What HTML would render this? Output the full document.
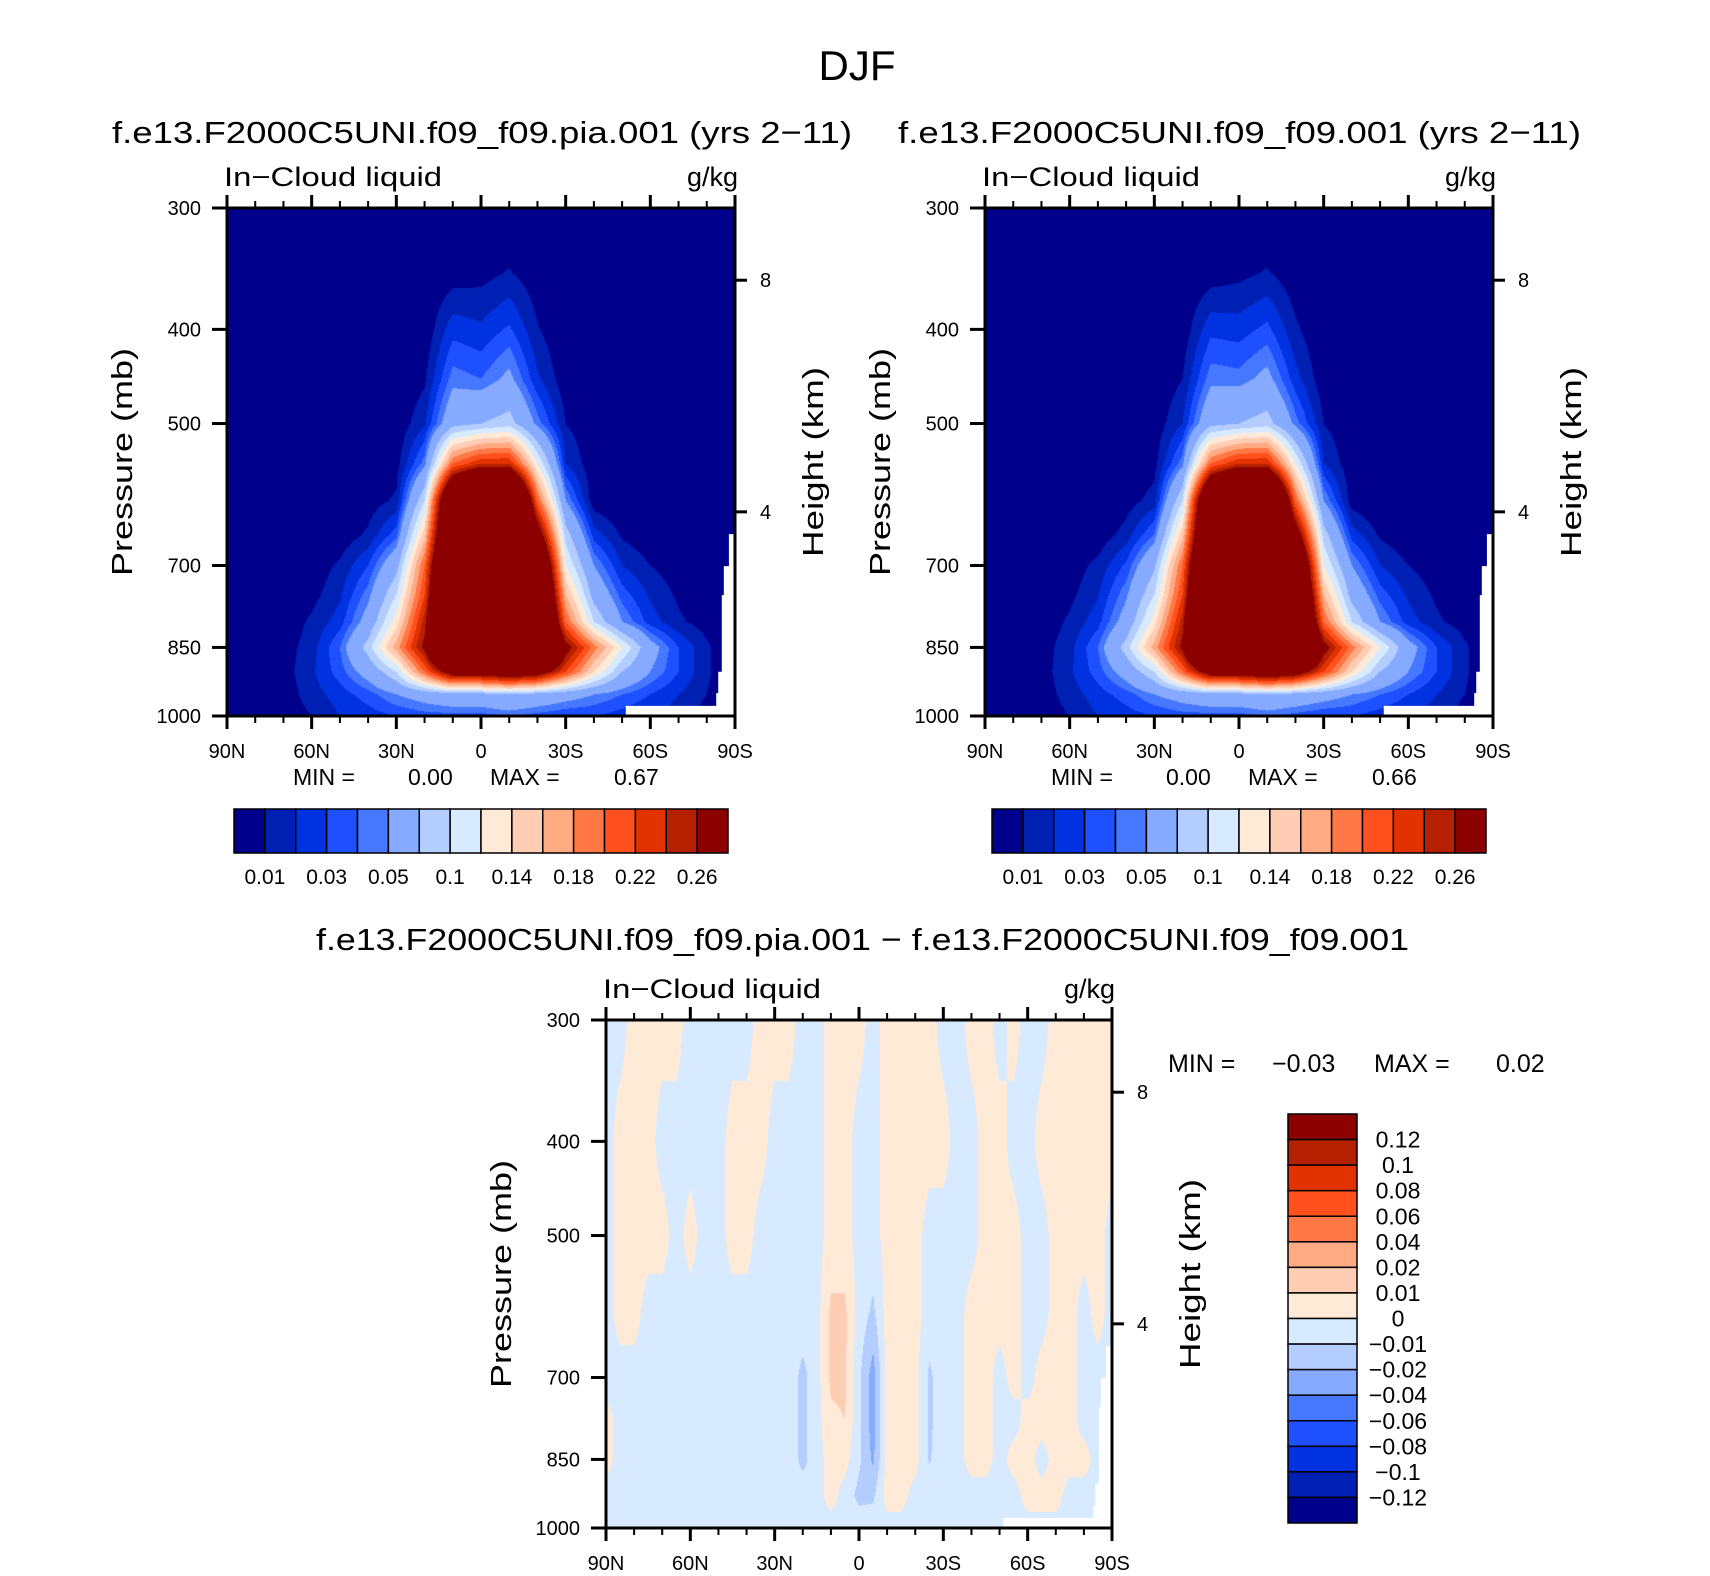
<!DOCTYPE html>
<html><head><meta charset="utf-8"><style>
html,body{margin:0;padding:0;background:#fff;}
#wrap{position:relative;width:1710px;height:1576px;overflow:hidden;font-family:"Liberation Sans",sans-serif;}
canvas{position:absolute;}
svg{position:absolute;left:0;top:0;}
text{font-family:"Liberation Sans",sans-serif;fill:#000;}
</style></head><body>
<div id="wrap">
<canvas id="c1" width="508" height="508" style="left:227px;top:208px"></canvas>
<canvas id="c2" width="508" height="508" style="left:985px;top:208px"></canvas>
<canvas id="c3" width="506" height="508" style="left:606px;top:1020px"></canvas>
<svg id="s" width="1710" height="1576">
<text x="857" y="80" font-size="42" text-anchor="middle">DJF</text>
<text x="112" y="143" font-size="31" textLength="740" lengthAdjust="spacingAndGlyphs">f.e13.F2000C5UNI.f09_f09.pia.001 (yrs 2−11)</text>
<text x="898" y="143" font-size="31" textLength="683" lengthAdjust="spacingAndGlyphs">f.e13.F2000C5UNI.f09_f09.001 (yrs 2−11)</text>
<text x="316" y="950" font-size="31" textLength="1093" lengthAdjust="spacingAndGlyphs">f.e13.F2000C5UNI.f09_f09.pia.001 − f.e13.F2000C5UNI.f09_f09.001</text>
</svg>
</div>
<script>
// ---- data ----
const topLats = [90,80,70,60,50,40,30,20,10,0,-10,-20,-30,-40,-50,-60,-70,-80,-90];
const topLevels = [300,350,400,450,500,550,600,650,700,750,800,850,900,950,1000];
const piaRows = [
[0,0,0,0,0,0,0,0,0,0,0,0,0,0,0,0,0,0,0],
[0,0,0,0,0,0,0,0,0.004,0.006,0.011,0.003,0,0,0,0,0,0,0],
[0,0,0,0,0,0,0,0.002,0.026,0.022,0.032,0.011,0,0,0,0,0,0,0],
[0,0,0,0,0,0,0,0.008,0.045,0.04,0.055,0.022,0.003,0,0,0,0,0,0],
[0,0,0,0,0,0,0.002,0.018,0.07,0.08,0.09,0.045,0.01,0.002,0,0,0,0,0],
[0,0,0,0,0,0,0.005,0.045,0.2,0.24,0.24,0.12,0.02,0.003,0,0,0,0,0],
[0,0,0,0,0,0.004,0.012,0.1,0.4,0.5,0.5,0.2,0.05,0.003,0,0,0,0,0],
[0,0,0,0,0.002,0.012,0.035,0.15,0.42,0.52,0.52,0.3,0.09,0.025,0.008,0.002,0,0,0],
[0,0,0,0.003,0.012,0.03,0.07,0.2,0.45,0.55,0.55,0.4,0.12,0.05,0.02,0.01,0.004,0,0],
[0,0,0.001,0.006,0.018,0.045,0.1,0.22,0.48,0.58,0.58,0.43,0.16,0.07,0.035,0.018,0.008,0.002,0],
[0,0,0.003,0.012,0.025,0.06,0.13,0.25,0.5,0.6,0.6,0.45,0.2,0.1,0.05,0.025,0.012,0.005,0],
[0,0,0.005,0.015,0.04,0.09,0.17,0.27,0.5,0.6,0.6,0.5,0.28,0.19,0.12,0.06,0.03,0.012,0],
[0,0,0.005,0.018,0.035,0.06,0.1,0.2,0.3,0.3,0.32,0.3,0.22,0.14,0.08,0.05,0.03,0.012,0],
[0,0,0.004,0.015,0.025,0.035,0.05,0.06,0.07,0.07,0.08,0.07,0.06,0.05,0.04,0.03,0.02,0.01,0],
[0,0,0.003,0.01,0.02,0.025,0.03,0.035,0.035,0.035,0.04,0.035,0.03,0.03,0.025,0.02,0.015,0.005,0]];
const ctlRows = [
[0,0,0,0,0,0,0,0,0,0,0,0,0,0,0,0,0,0,0],
[0,0,0,0,0,0,0,0,0.004,0.007,0.011,0.003,0,0,0,0,0,0,0],
[0,0,0,0,0,0,0,0.003,0.027,0.025,0.033,0.012,0,0,0,0,0,0,0],
[0,0,0,0,0,0,0.001,0.01,0.046,0.044,0.056,0.024,0.003,0,0,0,0,0,0],
[0,0,0,0,0,0,0.003,0.02,0.072,0.08,0.09,0.045,0.01,0.002,0,0,0,0,0],
[0,0,0,0,0,0.001,0.006,0.046,0.2,0.24,0.24,0.12,0.02,0.003,0,0,0,0,0],
[0,0,0,0,0,0.005,0.014,0.1,0.4,0.5,0.5,0.2,0.05,0.004,0,0,0,0,0],
[0,0,0,0,0.003,0.014,0.04,0.15,0.42,0.52,0.52,0.3,0.09,0.025,0.008,0.002,0,0,0],
[0,0,0,0.004,0.013,0.032,0.075,0.2,0.45,0.55,0.55,0.4,0.12,0.05,0.02,0.01,0.004,0,0],
[0,0,0.001,0.007,0.019,0.047,0.1,0.22,0.48,0.58,0.58,0.43,0.16,0.07,0.035,0.018,0.008,0.002,0],
[0,0,0.003,0.012,0.026,0.06,0.13,0.25,0.5,0.6,0.6,0.45,0.2,0.1,0.05,0.025,0.012,0.005,0],
[0,0,0.005,0.016,0.04,0.09,0.17,0.27,0.5,0.6,0.6,0.5,0.28,0.19,0.12,0.06,0.03,0.012,0],
[0,0,0.005,0.018,0.035,0.06,0.1,0.2,0.3,0.3,0.32,0.3,0.22,0.14,0.08,0.05,0.03,0.012,0],
[0,0,0.004,0.015,0.025,0.035,0.05,0.06,0.07,0.07,0.08,0.07,0.06,0.05,0.04,0.03,0.02,0.01,0],
[0,0,0.003,0.01,0.02,0.025,0.03,0.035,0.035,0.035,0.04,0.035,0.03,0.03,0.025,0.02,0.015,0.005,0]];
const diffLats = [90,85,80,75,70,65,60,55,50,45,40,35,30,25,20,15,10,5,0,-5,-10,-15,-20,-25,-30,-35,-40,-45,-50,-55,-60,-65,-70,-75,-80,-85,-90];
const diffLevels = [300,400,500,600,700,775,850,925,1000];
const P=0.004, N=-0.004;
const diffRows = [
[N,N,P,P,P,P,N,N,N,N,N,P,P,P,N,N,P,P,P,N,P,P,P,P,N,N,P,P,N,P,N,N,P,P,P,P,P],
[N,P,P,P,N,N,N,N,N,P,P,P,N,N,N,N,P,P,N,N,P,P,P,P,P,N,N,P,P,N,N,P,P,P,P,P,P],
[N,P,P,P,P,N,P,N,N,P,P,N,N,N,N,N,P,P,N,N,P,P,P,N,N,N,N,P,P,P,N,N,P,P,P,P,N],
[N,P,P,N,N,N,N,N,N,N,N,N,N,N,N,N,0.012,0.012,N,-0.012,P,P,P,N,N,N,P,P,P,P,N,N,P,P,N,P,N],
[N,N,N,N,N,N,N,N,N,N,N,N,N,N,-0.013,N,0.012,0.012,-0.008,-0.025,P,P,P,-0.012,N,N,P,P,N,P,N,P,P,P,N,N,N],
[P,N,N,N,N,N,N,N,N,N,N,N,N,N,-0.013,N,0.008,0.01,-0.008,-0.025,P,P,P,-0.012,N,N,P,P,N,N,P,P,P,P,N,N,N],
[P,N,N,N,N,N,N,N,N,N,N,N,N,N,-0.013,N,P,P,-0.008,-0.022,P,P,P,-0.011,N,N,P,P,N,P,P,N,P,P,P,N,N],
[N,N,N,N,N,N,N,N,N,N,N,N,N,N,N,N,P,N,-0.013,-0.012,P,P,N,N,N,N,N,N,N,N,P,P,P,N,N,N,N],
[N,N,N,N,N,N,N,N,N,N,N,N,N,N,N,N,N,N,N,N,N,N,N,N,N,N,N,N,N,N,N,N,N,N,N,N,N]];
const topBounds = [0.01,0.02,0.03,0.04,0.05,0.08,0.1,0.12,0.14,0.16,0.18,0.2,0.22,0.24,0.26];
const topBarLabels = ["0.01","0.03","0.05","0.1","0.14","0.18","0.22","0.26"];
const diffBounds = [-0.12,-0.1,-0.08,-0.06,-0.04,-0.02,-0.01,0,0.01,0.02,0.04,0.06,0.08,0.1,0.12];
const diffBarLabels = ["0.12","0.1","0.08","0.06","0.04","0.02","0.01","0","−0.01","−0.02","−0.04","−0.06","−0.08","−0.1","−0.12"];
const palette = ['#00008c','#0020b4','#0032e1','#1e50ff','#4678ff','#85aaff','#b4cdff','#d7eaff','#ffead8','#ffccb4','#ffaa82','#ff7846','#ff501e','#e13200','#b42000','#8c0000'];
const pTicks = [300,400,500,700,850,1000];
const zTicks = [8,4];
const latMajor = [90,60,30,0,-30,-60,-90];
const latMajorLabels = ["90N","60N","30N","0","30S","60S","90S"];
const latMinor = [80,70,50,40,20,10,-10,-20,-40,-50,-70,-80];
const minmax = [["0.00","0.67"],["0.00","0.66"],["−0.03","0.02"]];

// ---- axis functions ----
const LN300=Math.log(300), LN1000=Math.log(1000);
function yFrac(p){return (Math.log(p)-LN300)/(LN1000-LN300);}
function xFrac(lat){return (90-lat)/180;}
function pFromZ(km){return 1013.25*Math.pow(1-2.25577e-5*km*1000,5.25588);}
function hexRgb(h){return [parseInt(h.substr(1,2),16),parseInt(h.substr(3,2),16),parseInt(h.substr(5,2),16)];}
const rgb = palette.map(hexRgb);

function drawField(id, lats, levels, rows, bounds){
  const cv=document.getElementById(id), ctx=cv.getContext('2d');
  const W=cv.width,H=cv.height, img=ctx.createImageData(W,H);
  const lnl=levels.map(Math.log);
  for(let py=0;py<H;py++){
    const lnp=LN300+((py+0.5)/H)*(LN1000-LN300);
    let k=0; while(k<lnl.length-2 && lnp>lnl[k+1]) k++;
    const t=Math.min(1,Math.max(0,(lnp-lnl[k])/(lnl[k+1]-lnl[k])));
    for(let px=0;px<W;px++){
      const lat=90-180*(px+0.5)/W;
      let j=0; while(j<lats.length-2 && lat<lats[j+1]) j++;
      const u=Math.min(1,Math.max(0,(lats[j]-lat)/(lats[j]-lats[j+1])));
      const v=(1-t)*((1-u)*rows[k][j]+u*rows[k][j+1])+t*((1-u)*rows[k+1][j]+u*rows[k+1][j+1]);
      let b=0; while(b<bounds.length && v>=bounds[b]) b++;
      const c=rgb[b], o=(py*W+px)*4;
      img.data[o]=c[0];img.data[o+1]=c[1];img.data[o+2]=c[2];img.data[o+3]=255;
    }
  }
  ctx.putImageData(img,0,0);
}
drawField('c1',topLats,topLevels,piaRows,topBounds);
drawField('c2',topLats,topLevels,ctlRows,topBounds);
drawField('c3',diffLats,diffLevels,diffRows,diffBounds);

const NS='http://www.w3.org/2000/svg', svg=document.getElementById('s');
function el(tag,attrs,txt){const e=document.createElementNS(NS,tag);for(const k in attrs)e.setAttribute(k,attrs[k]);if(txt!==undefined)e.textContent=txt;svg.appendChild(e);return e;}
const mask=[[0.785,1],[0.785,0.980],[0.963,0.980],[0.963,0.955],[0.967,0.955],[0.967,0.913],[0.974,0.913],[0.974,0.762],[0.978,0.762],[0.978,0.705],[0.988,0.705],[0.988,0.642],[1,0.642],[1,1]];

function panel(px,py,W,H,idx,name){
  const X=l=>px+xFrac(l)*W, Y=p=>py+yFrac(p)*H;
  let m=el('polygon',{points:mask.map(q=>(px+q[0]*W)+','+(py+q[1]*H)).join(' '),fill:'#fff'});
  
  
  let f=el('rect',{x:px,y:py,width:W,height:H,fill:'none',stroke:'#000','stroke-width':3});
  
  
  latMajor.forEach((l,i)=>{
    let t=el('line',{x1:X(l),x2:X(l),y1:py+H,y2:py+H+13,stroke:'#000','stroke-width':3});
    
    
    let t2=el('line',{x1:X(l),x2:X(l),y1:py,y2:py-13,stroke:'#000','stroke-width':3});
    
    
    let lb=el('text',{x:X(l),y:py+H+42,'font-size':20,'text-anchor':'middle'},latMajorLabels[i]);
    
    
  });
  latMinor.forEach(l=>{
    let t=el('line',{x1:X(l),x2:X(l),y1:py+H,y2:py+H+7,stroke:'#000','stroke-width':2});
    
    
    let t2=el('line',{x1:X(l),x2:X(l),y1:py,y2:py-7,stroke:'#000','stroke-width':2});
    
    
  });
  pTicks.forEach(p=>{
    let t=el('line',{x1:px-15,x2:px,y1:Y(p),y2:Y(p),stroke:'#000','stroke-width':3});
    
    
    let lb=el('text',{x:px-26,y:Y(p)+7,'font-size':20,'text-anchor':'end'},String(p));
    
    
  });
  zTicks.forEach(z=>{
    const yy=Y(pFromZ(z));
    let t=el('line',{x1:px+W,x2:px+W+12,y1:yy,y2:yy,stroke:'#000','stroke-width':3});
    
    
    let lb=el('text',{x:px+W+25,y:yy+7,'font-size':20},String(z));
    
    
  });
  let a=el('text',{x:px-3,y:py-22,'font-size':27,textLength:218,lengthAdjust:'spacingAndGlyphs'},'In−Cloud liquid');
  
  
  let u=el('text',{x:px+W+3,y:py-22,'font-size':27,'text-anchor':'end'},'g/kg');
  
  
  let yt=el('text',{x:0,y:0,'font-size':29,'text-anchor':'middle',transform:'translate('+(px-95)+','+(py+H/2)+') rotate(-90)',textLength:228,lengthAdjust:'spacingAndGlyphs'},'Pressure (mb)');
  
  
  let ht=el('text',{x:0,y:0,'font-size':29,'text-anchor':'middle',transform:'translate('+(px+W+88)+','+(py+H/2)+') rotate(-90)',textLength:190,lengthAdjust:'spacingAndGlyphs'},'Height (km)');
  
  
}
panel(227,208,508,508,0,'pia');
panel(985,208,508,508,1,'control');
panel(606,1020,506,508,2,'difference');

function minMaxTop(ox,i){
  const items=[['MIN =',ox+66],[minmax[i][0],ox+181],['MAX =',ox+263],[minmax[i][1],ox+387]];
  items.forEach(s=>{let t=el('text',{x:s[1],y:785,'font-size':23},s[0]);
    
    });
}
minMaxTop(227,0); minMaxTop(985,1);
[['MIN =',1168],[minmax[2][0],1272],['MAX =',1374],[minmax[2][1],1496]].forEach(s=>{
  let t=el('text',{x:s[1],y:1072,'font-size':25},s[0]);
  
  });

function hbar(x0,y0,w,h){
  const bw=w/palette.length;
  palette.forEach((c,i)=>{let r=el('rect',{x:x0+i*bw,y:y0,width:bw,height:h,fill:c,stroke:'#000','stroke-width':1.5});
    
    });
  topBarLabels.forEach((s,i)=>{let t=el('text',{x:x0+(2*i+1)*bw,y:y0+h+31,'font-size':21,'text-anchor':'middle'},s);
    
    });
}
hbar(234,809,494,44); hbar(992,809,494,44);
(function(){
  const x0=1288,y0=1114,w=69,h=409,bh=h/palette.length;
  palette.slice().reverse().forEach((c,i)=>{let r=el('rect',{x:x0,y:y0+i*bh,width:w,height:bh,fill:c,stroke:'#000','stroke-width':1.5});
    
    });
  diffBarLabels.forEach((s,i)=>{let t=el('text',{x:1398,y:y0+(i+1)*bh+8,'font-size':23,'text-anchor':'middle'},s);
    
    });
})();
</script>
</body></html>
